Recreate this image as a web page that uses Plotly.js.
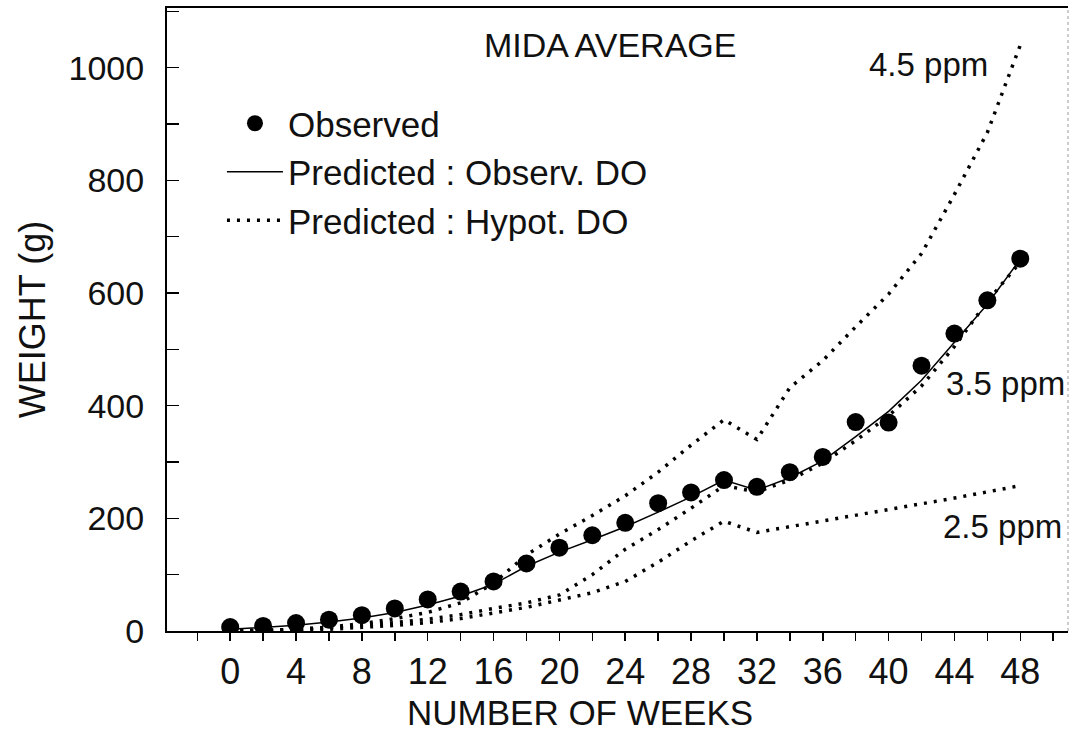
<!DOCTYPE html>
<html>
<head>
<meta charset="utf-8">
<script src="https://cdn.plot.ly/plotly-3.0.1.min.js"></script>
<style>html,body{margin:0;padding:0;background:#fff;}#chart{width:1080px;height:731px;}</style>
</head>
<body>
<div id="chart"></div>
<script>
// Weeks of the study
const weeks = [0,2,4,6,8,10,12,14,16,18,20,22,24,26,28,30,32,34,36,38,40,42,44,46,48];
// Observed mean weight (g)
const observed = [7,9,14,20,28,40,56,70,88,120,148,170,192,227,246,268,256,282,309,371,370,471,528,587,661];
// Predicted with observed dissolved oxygen (solid line)
const predObsDO = [3,6,10,16,23,33,46,62,83,115,140,162,185,211,238,268,250,272,302,345,390,445,512,580,660];
// Predicted with hypothetical DO levels (dotted lines)
const pred45 = [0,1,3,7,13,22,33,50,85,135,172,205,240,282,330,375,340,432,480,540,598,670,775,885,1040];
const pred35 = [0,1,3,6,10,15,21,29,40,50,64,100,145,180,218,258,247,268,298,338,382,435,505,585,655];
const pred25 = [0,0,1,3,6,10,15,22,32,42,55,68,88,122,160,195,175,185,195,205,215,225,236,247,258];
const xTicks = [0,4,8,12,16,20,24,28,32,36,40,44,48];
const yTicks = [0,200,400,600,800,1000];

const FONT = 'Liberation Sans, Arial, Helvetica, sans-serif';
const NARROW = 'Liberation Sans Narrow, Arial Narrow, ' + FONT;
const INK = '#111';
const dotLine = {color:'#000', width:3.5, dash:'3px,7px'};

const traces = [
  {x:weeks, y:observed, type:'scatter', mode:'markers', name:'Observed',
   marker:{color:'#000', size:18, symbol:'circle'}},
  {x:weeks, y:predObsDO, type:'scatter', mode:'lines', name:'Predicted : Observ. DO',
   line:{color:'#000', width:1.5}},
  {x:weeks, y:pred35, type:'scatter', mode:'lines', name:'Predicted : Hypot. DO',
   line:dotLine},
  {x:weeks, y:pred45, type:'scatter', mode:'lines', name:'4.5 ppm', showlegend:false,
   line:dotLine},
  {x:weeks, y:pred25, type:'scatter', mode:'lines', name:'2.5 ppm', showlegend:false,
   line:dotLine}
];

const layout = {
  width:1080, height:731,
  paper_bgcolor:'#fff', plot_bgcolor:'#fff',
  margin:{l:167, r:12, t:8, b:100},
  font:{family:FONT, color:INK, size:30},
  showlegend:true,
  legend:{x:0.061, y:0.862, xanchor:'left', yanchor:'top', bgcolor:'rgba(0,0,0,0)',
          font:{family:FONT, size:35, color:INK}, itemwidth:56},
  title:{text:'MIDA AVERAGE', x:0.565, xanchor:'center', y:0.938, yanchor:'middle',
         font:{family:FONT, size:34, color:INK}},
  xaxis:{range:[-3.84, 50.9], showgrid:false, zeroline:false,
         showline:true, linecolor:'#000', linewidth:2, mirror:true,
         tickmode:'array', tickvals:xTicks, ticktext:xTicks.map(String),
         ticks:'outside', ticklen:8, tickwidth:1.5, tickcolor:'#000',
         minor:{dtick:2, tick0:0, ticks:'outside', ticklen:8, tickwidth:1.5, tickcolor:'#000'},
         tickfont:{family:NARROW, size:36, color:INK}},
  yaxis:{range:[0, 1106], showgrid:false, zeroline:false,
         showline:true, linecolor:'#000', linewidth:2,
         tickmode:'array', tickvals:yTicks, ticktext:yTicks.map(String),
         ticks:'inside', ticklen:12, tickwidth:1.5, tickcolor:'#000',
         minor:{dtick:100, tick0:0, ticks:'inside', ticklen:12, tickwidth:1.5, tickcolor:'#000'},
         tickfont:{family:FONT, size:34, color:INK}, ticklabelstandoff:14,
         title:{text:'WEIGHT (g)', standoff:12, font:{family:FONT, size:36, color:INK}}},
  shapes:[{type:'line', xref:'paper', yref:'paper', x0:1, x1:1, y0:0, y1:1,
           line:{color:'#999', width:1, dash:'dot'}}],
  annotations:[
    {x:0.458, y:-0.1316, xref:'paper', yref:'paper', yanchor:'middle', text:'NUMBER OF WEEKS',
     showarrow:false, font:{family:FONT, size:35, color:INK}},
    {x:42.4, y:1005, xref:'x', yref:'y', text:'4.5 ppm', showarrow:false,
     font:{family:FONT, size:33, color:INK}},
    {x:47.1, y:440, xref:'x', yref:'y', text:'3.5 ppm', showarrow:false,
     font:{family:FONT, size:33, color:INK}},
    {x:46.95, y:185, xref:'x', yref:'y', text:'2.5 ppm', showarrow:false,
     font:{family:FONT, size:33, color:INK}}
  ]
};

Plotly.newPlot('chart', traces, layout, {displayModeBar:false, staticPlot:true});
</script>
</body>
</html>
